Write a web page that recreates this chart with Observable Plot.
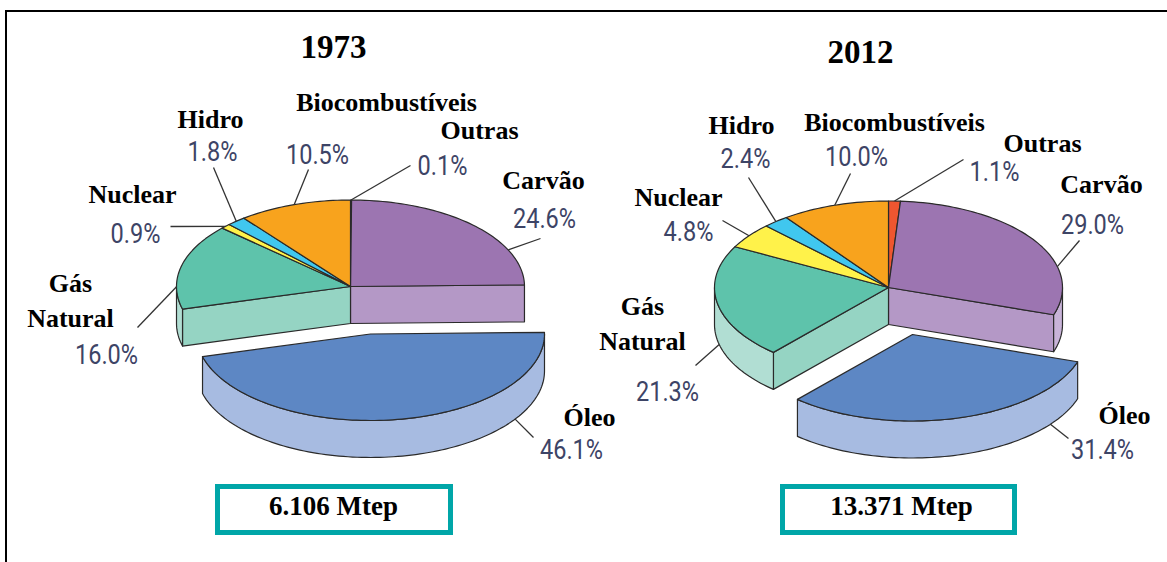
<!DOCTYPE html>
<html><head><meta charset="utf-8">
<script src="https://cdn.jsdelivr.net/npm/d3@7"></script>
<script src="https://cdn.jsdelivr.net/npm/@observablehq/plot@0.6"></script>
<style>
html,body{margin:0;padding:0;background:#fff;}
#wrap{position:relative;width:1167px;height:562px;overflow:hidden;}
#frame{position:absolute;left:5px;top:10px;width:1200px;height:600px;border-top:2px solid #000;border-left:2px solid #000;pointer-events:none;}
</style></head><body>
<div id="wrap"><div id="chart"></div><div id="frame"></div></div>
<script>
// ---------- DATA ----------
const categories = ["Outras", "Carvão", "Óleo", "Gás Natural", "Nuclear", "Hidro", "Biocombustíveis"];
const years = ["1973", "2012"];
const share1973 = [0.1, 24.6, 46.1, 16.0, 0.9, 1.8, 10.5];
const share2012 = [1.1, 29.0, 31.4, 21.3, 4.8, 2.4, 10.0];
const totalMtep = [6106, 13371];
const explodedCategory = "Óleo";

// ---------- STYLES ----------
const topColor = {"Outras":"#ee5630","Carvão":"#9c75b1","Óleo":"#5d87c4","Gás Natural":"#5ec3ab","Nuclear":"#fff24a","Hidro":"#40c7ef","Biocombustíveis":"#f8a31d"};
const cutColor = {"Outras":"#f08a70","Carvão":"#b498c6","Óleo":"#a7bbe1","Gás Natural":"#95d4c3","Nuclear":"#fff79a","Hidro":"#90def5","Biocombustíveis":"#fbc46e"};
const sideColor = {"Outras":"#f4a590","Carvão":"#c8b3d8","Óleo":"#a7bbe1","Gás Natural":"#b1ded3","Nuclear":"#fff9b0","Hidro":"#a8e6f8","Biocombustíveis":"#fcd08a"};
const EDGE = "#2a2a2a";
const PCT = "#3d4466";
const TEAL = "#00a6a8";

// ---------- LAYOUT ----------
const RX = 174, RY = 86.5, DEPTH = 37;
const pieLayout = [
  {cx:350, cy:286, explode:[20,47.5], title:[333,57], box:[217.5,450.5,486.5,532.5], total:[333,514]},
  {cx:888, cy:287, explode:[24,47],   title:[860,62], box:[782.5,1014.5,486.5,532.5], total:[901,514]}
];
const labelLayout = [
 {"Outras":{t:0.5,drop:0,end:[410,165],name:[479,138],pct:[442,174]},
  "Carvão":{t:0.73,drop:0,end:[540,238],name:[543,188],pct:[544,227]},
  "Óleo":{t:0.21,drop:1,end:[533,437],name:[589,425],pct:[571,458]},
  "Gás Natural":{t:0.26,drop:0,end:[137,327],name:[70,326],pct:[106,363]},
  "Nuclear":{t:0.5,drop:0,end:[170,226],name:[132,202],pct:[135,242]},
  "Hidro":{t:0.5,drop:0,end:[213,167],name:[210,127],pct:[212,160]},
  "Biocombustíveis":{t:0.5,drop:0,end:[308,169],name:[386,110],pct:[317,163]}},
 {"Outras":{t:0.5,drop:0,end:[963,159],name:[1042,151],pct:[994,180]},
  "Carvão":{t:0.69,drop:0,end:[1079,240],name:[1101,192],pct:[1092,233]},
  "Óleo":{t:0.17,drop:1,end:[1068,438],name:[1124,423],pct:[1102,458]},
  "Gás Natural":{t:0.46,drop:1,end:[695,365],name:[642,349],pct:[667,400]},
  "Nuclear":{t:0.5,drop:0,end:[722,220],name:[678,205],pct:[688,240]},
  "Hidro":{t:0.5,drop:0,end:[748,177],name:[741,133],pct:[745,167]},
  "Biocombustíveis":{t:0.5,drop:0,end:[850,173],name:[894,130],pct:[856,165]}}
];

// ---------- GEOMETRY ----------
const shares = [share1973, share2012];
const fmtTotal = d3.formatLocale({decimal:",", thousands:".", grouping:[3], currency:["",""]}).format(",");
const rad = d => d * Math.PI / 180;

function rim(p, th, off, drop) {
  return [p.cx + off[0] + RX * Math.sin(rad(th)), p.cy + off[1] - RY * Math.cos(rad(th)) + drop];
}
function arc(p, a0, a1, off, drop) {
  const n = Math.max(2, Math.ceil((a1 - a0) / 1.5));
  return d3.range(n + 1).map(i => rim(p, a0 + (a1 - a0) * i / n, off, drop));
}

const sidePolys = [], topPolys = [], explPolys = [];
const links = [], names = [], pcts = [], titles = [], totals = [], boxes = [];

years.forEach((year, k) => {
  const p = pieLayout[k];
  const vals = shares[k];
  const sum = d3.sum(vals);
  let acc = 0;
  const slices = categories.map((c, i) => {
    const a0 = acc / sum * 360; acc += vals[i]; const a1 = acc / sum * 360;
    const ex = c === explodedCategory;
    return {c, i, a0, a1, ex, off: ex ? p.explode : [0, 0]};
  });
  slices.forEach((s, i) => {
    const prev = slices[(i - 1 + slices.length) % slices.length];
    const next = slices[(i + 1) % slices.length];
    const target = s.ex ? explPolys : sidePolys;
    const ctr = [p.cx + s.off[0], p.cy + s.off[1]];
    const face = (a) => {
      const t = rim(p, a, s.off, 0), b = rim(p, a, s.off, DEPTH);
      target.push({id:`${year}-${s.c}-cut${a}`, fill: cutColor[s.c],
        pts:[ctr, t, b, [ctr[0], ctr[1] + DEPTH]]});
    };
    if ((s.ex || prev.ex) && Math.sin(rad(s.a0)) < 0) face(s.a0);
    if ((s.ex || next.ex) && Math.sin(rad(s.a1)) > 0) face(s.a1);
    const b0 = Math.max(s.a0, 90), b1 = Math.min(s.a1, 270);
    if (b1 > b0) {
      const top = arc(p, b0, b1, s.off, 0), bot = arc(p, b0, b1, s.off, DEPTH).reverse();
      target.push({id:`${year}-${s.c}-side`, fill: sideColor[s.c], pts: top.concat(bot)});
    }
    (s.ex ? explPolys : topPolys).push({id:`${year}-${s.c}-top`, fill: topColor[s.c],
      pts: [ctr].concat(arc(p, s.a0, s.a1, s.off, 0))});
    const L = labelLayout[k][s.c];
    const anchor = rim(p, s.a0 + L.t * (s.a1 - s.a0), s.off, L.drop * DEPTH);
    links.push({x1: anchor[0], y1: anchor[1], x2: L.end[0], y2: L.end[1]});
    names.push({x: L.name[0], y: L.name[1], text: s.c.replace(" ", "\n")});
    pcts.push({x: L.pct[0], y: L.pct[1], text: vals[i].toFixed(1) + "%"});
  });
  titles.push({x: p.title[0], y: p.title[1], text: year});
  boxes.push({x1: p.box[0], x2: p.box[1], y1: p.box[2], y2: p.box[3]});
  totals.push({x: p.total[0], y: p.total[1], text: fmtTotal(totalMtep[k]) + " Mtep"});
});

const flat = polys => polys.flatMap(q => q.pts.map(([x, y]) => ({id: q.id, fill: q.fill, x, y})));
const polyMark = polys => Plot.line(flat(polys), {x:"x", y:"y", z:"id", fill:"fill", stroke: EDGE, strokeWidth: 1.2, strokeLinejoin:"round", curve:"linear-closed"});

const chart = Plot.plot({
  width: 1167, height: 562, margin: 0,
  x: {domain:[0,1167], range:[0,1167], axis:null},
  y: {domain:[0,562], range:[0,562], axis:null},
  color: {type:"identity"},
  style: {background:"white", overflow:"visible"},
  marks: [
    polyMark(sidePolys),
    polyMark(topPolys),
    polyMark(explPolys),
    Plot.link(links, {x1:"x1", y1:"y1", x2:"x2", y2:"y2", stroke:"#333", strokeWidth:1.3}),
    Plot.text(names, {x:"x", y:"y", text:"text", textAnchor:"middle", lineAnchor:"bottom", lineHeight:1.31,
      fontFamily:"Liberation Serif", fontWeight:"bold", fontSize:26, fill:"#000"}),
    Plot.text(pcts, {x:"x", y:"y", text:"text", textAnchor:"middle", lineAnchor:"bottom",
      fontFamily:"Roboto, sans-serif", fontWeight:400, fontSize:28, fill: PCT}),
    Plot.text(titles, {x:"x", y:"y", text:"text", textAnchor:"middle", lineAnchor:"bottom",
      fontFamily:"Liberation Serif", fontWeight:"bold", fontSize:33, fill:"#000"}),
    Plot.rect(boxes, {x1:"x1", x2:"x2", y1:"y1", y2:"y2", fill:"white", stroke: TEAL, strokeWidth:5}),
    Plot.text(totals, {x:"x", y:"y", text:"text", textAnchor:"middle", lineAnchor:"bottom",
      fontFamily:"Liberation Serif", fontWeight:"bold", fontSize:27, fill:"#000"})
  ]
});
document.getElementById("chart").appendChild(chart);
d3.select(chart).selectAll("g[font-family^='Roboto'] text").each(function() {
  const len = this.getComputedTextLength();
  this.setAttribute("textLength", (len * 0.84).toFixed(1));
  this.setAttribute("lengthAdjust", "spacingAndGlyphs");
});
</script>
</body></html>
